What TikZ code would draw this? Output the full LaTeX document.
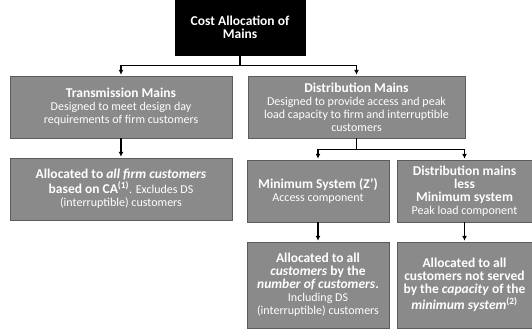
\documentclass[tikz,border=0pt]{standalone}
\usepackage{fontspec}
\setmainfont{Carlito}
\usepackage{tikz}
\usetikzlibrary{arrows.meta,positioning}
\definecolor{mainsgray}{HTML}{8A8A8A}
\definecolor{mainsedge}{HTML}{5C5C5C}
\newcommand{\hd}{\fontsize{13.5}{15}\selectfont\bfseries}

\tikzset{
  mainsbox/.style={fill=mainsgray, draw=mainsedge, text=white, align=center,
    inner sep=1pt, font=\fontsize{12}{13}\selectfont},
  link/.style={black, line width=1.1pt},
  linkarrow/.style={link, -{Latex[length=5pt,width=5pt]}, shorten >=1pt}
}

\begin{document}
\begin{tikzpicture}[x=1pt, y=-1pt]
    \useasboundingbox (0,0) rectangle (532,329);

    % Top of the tree
    \node[mainsbox, fill=black, draw=black, minimum width=130pt, minimum height=55pt]
        (cost) at (240,27.5) {\hd Cost Allocation of\\ \hd Mains};

    % Transmission and distribution
    \node[mainsbox, minimum width=222pt, minimum height=62pt] (trans) at (121,107)
        {{\hd Transmission Mains}\\ Designed to meet design day\\ requirements of firm customers};
    \node[mainsbox, minimum width=217pt, minimum height=62pt] (dist) at (356.5,107)
        {{\hd Distribution Mains}\\ Designed to provide access and peak\\
         load capacity to firm and interruptible\\ customers};

    % Second row
    \node[mainsbox, minimum width=222pt, minimum height=62pt] (firm) at (121,189)
        {{\hd Allocated to \textit{all firm customers}}\\
         {\hd based on CA\textsuperscript{(1)}}. Excludes DS\\ (interruptible) customers};
    \node[mainsbox, minimum width=142pt, minimum height=62pt] (minsys) at (318,191)
        {{\hd Minimum System (Z')}\\ Access component};
    \node[mainsbox, minimum width=135pt, minimum height=62pt] (less) at (464.5,191)
        {{\hd Distribution mains}\\ {\hd less}\\ {\hd Minimum system}\\ Peak load component};

    % Bottom row
    \node[mainsbox, minimum width=142pt, minimum height=86pt] (bynumber) at (318,285)
        {{\hd Allocated to all}\\ {\hd \textit{customers} by the}\\
         {\hd \textit{number of customers}.}\\ Including DS\\ (interruptible) customers};
    \node[mainsbox, minimum width=135pt, minimum height=86pt] (bycapacity) at (464.5,285)
        {{\hd Allocated to all}\\ {\hd customers not served}\\
         {\hd by the \textit{capacity} of the}\\ {\hd \textit{minimum system}\textsuperscript{(2)}}};

    % Connectors
    \draw[link] (cost.south) -- ++(0,10) coordinate (split1);
    \draw[linkarrow] (split1) -| (trans.north);
    \draw[linkarrow] (split1) -| (dist.north);
    \draw[linkarrow] (trans.south) -- (firm.north);
    \draw[link] (dist.south) -- ++(0,11) coordinate (split2);
    \draw[linkarrow] (split2) -| (minsys.north);
    \draw[linkarrow] (split2) -| (less.north);
    \draw[linkarrow] (minsys.south) -- (bynumber.north);
    \draw[linkarrow] (less.south) -- (bycapacity.north);
\end{tikzpicture}
\end{document}
